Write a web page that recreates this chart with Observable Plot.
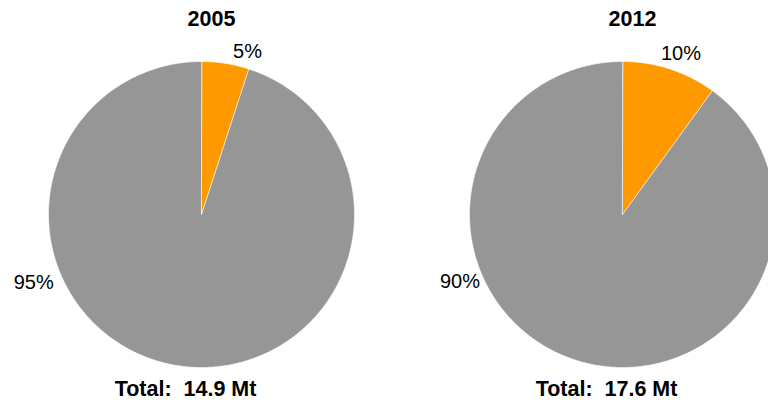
<!DOCTYPE html>
<html><head><meta charset="utf-8">
<script src="https://cdn.jsdelivr.net/npm/d3@7"></script>
<script src="https://cdn.jsdelivr.net/npm/@observablehq/plot@0.6"></script>
<style>body{margin:0;background:#fff}#chart svg{display:block}</style>
</head><body><div id="chart"></div>
<script>
// ---- data ----
const years = ["2005", "2012"];
const categories = ["Share", "Rest"];
const shareValues = [5, 10];
const restValues = [95, 90];
const totals = [14.9, 17.6];
const totalUnit = "Mt";
const colors = ["#FF9900", "#969696"];

// ---- layout (pixels) ----
const W = 768, H = 400, PX = 153;          // px per unit radius
const centersPx = [201, 622], cyPx = 214;
const titleDxPx = 10, titleYPx = 18.5;
const totalDxPx = -16, totalYPx = 389;
const labelAngleDeg = {Share: [15.8, 20], Rest: [248, 247.5]};
const labelRadiusPx = {Share: [169, 171], Rest: [181, 176]};

const cx = centersPx.map(c => (c - centersPx[0]) / PX);
const yUnit = py => (cyPx - py) / PX;

// build slices
const slices = [];
const labels = [];
years.forEach((yr, i) => {
  const vals = [shareValues[i], restValues[i]];
  const sum = d3.sum(vals);
  let a0 = 0;
  vals.forEach((v, k) => {
    const a1 = a0 + (v / sum) * 2 * Math.PI;
    const key = yr + "-" + categories[k];
    slices.push({key, cat: categories[k], x: cx[i], y: 0});
    const n = Math.max(2, Math.ceil((a1 - a0) / (Math.PI / 360)));
    for (let s = 0; s <= n; s++) {
      const a = a0 + (a1 - a0) * s / n;
      slices.push({key, cat: categories[k], x: cx[i] + Math.sin(a), y: Math.cos(a)});
    }
    const la = labelAngleDeg[categories[k]][i] * Math.PI / 180;
    const lr = labelRadiusPx[categories[k]][i] / PX;
    labels.push({x: cx[i] + lr * Math.sin(la), y: lr * Math.cos(la), text: v + "%"});
    a0 = a1;
  });
});

const titles = years.map((yr, i) => ({x: cx[i] + titleDxPx / PX, y: yUnit(titleYPx), text: yr}));
const totalTexts = totals.map((t, i) => ({x: cx[i] + totalDxPx / PX, y: yUnit(totalYPx), text: "Total:  " + t.toFixed(1) + " " + totalUnit}));

const font = "Liberation Sans, Arial, Helvetica, sans-serif";
const chart = Plot.plot({
  width: W, height: H,
  marginTop: 0, marginBottom: 0, marginLeft: 0, marginRight: 0,
  x: {domain: [-centersPx[0] / PX, (W - centersPx[0]) / PX], axis: null},
  y: {domain: [yUnit(H), yUnit(0)], axis: null},
  color: {domain: categories, range: colors},
  style: {fontFamily: font, background: "#fff"},
  marks: [
    Plot.line(slices, {x: "x", y: "y", z: "key", fill: "cat", stroke: "white", strokeWidth: 0.6, curve: "linear-closed"}),
    Plot.text(labels, {x: "x", y: "y", text: "text", fontSize: 20, fill: "#000"}),
    Plot.text(titles, {x: "x", y: "y", text: "text", fontSize: 21.5, fontWeight: "bold", fill: "#000"}),
    Plot.text(totalTexts, {x: "x", y: "y", text: "text", fontSize: 21.5, fontWeight: "bold", fill: "#000"})
  ]
});
document.getElementById("chart").appendChild(chart);
</script>
</body></html>
